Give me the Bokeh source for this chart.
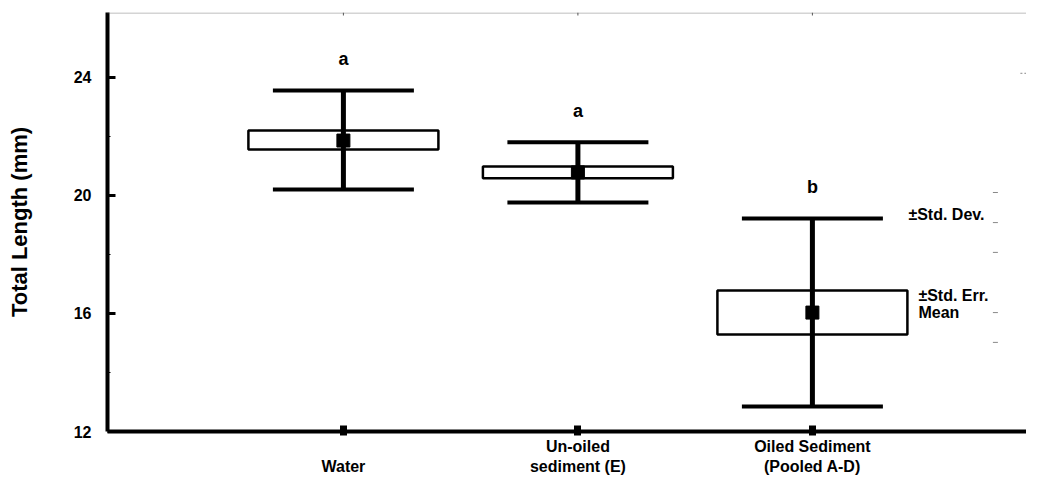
from bokeh.plotting import figure
from bokeh.models import Range1d, FixedTicker, Label, Span, LinearAxis
from bokeh.embed import file_html
from bokeh.resources import INLINE
from bokeh.core.properties import value

# ---------------- data ----------------
categories = ["Water", "Un-oiled sediment (E)", "Oiled Sediment (Pooled A-D)"]
label_line1 = ["", "Un-oiled", "Oiled Sediment"]
label_line2 = ["Water", "sediment (E)", "(Pooled A-D)"]
x_pos = [1, 2, 3]
means = [21.86, 20.78, 16.03]
se_lo = [21.56, 20.58, 15.29]
se_hi = [22.20, 20.98, 16.78]
sd_lo = [20.20, 19.76, 12.85]
sd_hi = [23.56, 21.80, 19.22]
groups = ["a", "a", "b"]
y_ticks = [12, 16, 20, 24]
y_minor = [14, 18, 22]
legend_texts = ["\u00b1Std. Dev.", "\u00b1Std. Err.", "Mean"]
stray_marks_y = [20.1, 19.08, 18.07, 16.03, 15.02]

# ---------------- layout ----------------
FONT = "Liberation Sans"
Y0, Y1 = 12, 26.2
X0, X1 = -0.006, 3.913
FRAME_H = 419
PX = FRAME_H / (Y1 - Y0)          # pixels per y unit
XPX = 234.5                       # pixels per x unit


def dy(px):
    return px / PX


def dx(px):
    return px / XPX


p = figure(width=1026, height=477, x_range=Range1d(X0, X1), y_range=Range1d(Y0, Y1),
           output_backend="svg", toolbar_location=None,
           min_border_left=107, min_border_right=0, min_border_top=12, min_border_bottom=46)
p.background_fill_color = "white"
p.border_fill_color = "white"
p.outline_line_color = None
p.xgrid.visible = False
p.ygrid.visible = False

# x axis (first label row)
xa = p.xaxis[0]
xa.ticker = FixedTicker(ticks=x_pos)
xa.axis_line_width = 4
xa.axis_line_color = "black"
xa.major_tick_in = 6
xa.major_tick_out = 4
xa.major_tick_line_width = 7
xa.minor_tick_line_color = None
xa.major_label_overrides = {x: t for x, t in zip(x_pos, label_line1)}
xa.major_label_standoff = 2
xa.major_label_text_font = FONT
xa.major_label_text_font_style = "bold"
xa.major_label_text_font_size = "16px"
xa.major_label_text_color = "black"

# second label row
xa2 = LinearAxis(ticker=FixedTicker(ticks=x_pos))
xa2.axis_line_color = None
xa2.major_tick_line_color = None
xa2.minor_tick_line_color = None
xa2.major_tick_in = 0
xa2.major_tick_out = 0
xa2.major_label_standoff = 0
xa2.major_label_overrides = {x: t for x, t in zip(x_pos, label_line2)}
xa2.major_label_text_font = FONT
xa2.major_label_text_font_style = "bold"
xa2.major_label_text_font_size = "16px"
xa2.major_label_text_color = "black"
p.add_layout(xa2, "below")

# y axis
ya = p.yaxis[0]
ya.ticker = FixedTicker(ticks=y_ticks, minor_ticks=y_minor)
ya.axis_line_width = 4
ya.axis_line_color = "black"
ya.major_tick_in = 8
ya.major_tick_out = 0
ya.major_tick_line_width = 3
ya.minor_tick_in = 3
ya.minor_tick_out = 0
ya.minor_tick_line_width = 1
ya.major_label_standoff = 16
ya.major_label_text_font = FONT
ya.major_label_text_font_style = "bold"
ya.major_label_text_font_size = "16px"
ya.major_label_text_color = "black"
ya.axis_label = "Total Length (mm)"
ya.axis_label_standoff = 39
ya.axis_label_text_font = FONT
ya.axis_label_text_font_style = "bold"
ya.axis_label_text_font_size = "22px"
ya.axis_label_text_color = "black"

# dotted top border with small ticks
p.add_layout(Span(location=Y1 - dy(0.5), dimension="width", line_color="#555555",
                  line_dash="1 1", line_width=1))
p.segment(x0=x_pos, y0=[Y1] * 3, x1=x_pos, y1=[Y1 - dy(3)] * 3, line_color="#555555", line_width=1)

# boxes (mean +- SE)
bw = dx(95)
cw = dx(70.5)
p.quad(left=[x - bw for x in x_pos], right=[x + bw for x in x_pos], bottom=se_lo, top=se_hi,
       fill_color="white", line_color="black", line_width=2.5)
# whiskers (mean +- SD)
p.segment(x0=x_pos, y0=sd_lo, x1=x_pos, y1=sd_hi, line_color="black", line_width=5)
p.segment(x0=[x - cw for x in x_pos], y0=sd_hi, x1=[x + cw for x in x_pos], y1=sd_hi,
          line_color="black", line_width=4)
p.segment(x0=[x - cw for x in x_pos], y0=sd_lo, x1=[x + cw for x in x_pos], y1=sd_lo,
          line_color="black", line_width=4)
# means
p.scatter(x=x_pos, y=means, marker="square", size=13, fill_color="black", line_color="black")

# significance letters
p.text(x=x_pos, y=[v + dy(31) for v in sd_hi], text=groups, text_font=value(FONT),
       text_font_style="bold", text_font_size="18px", text_align="center",
       text_baseline="middle", text_color="black")

# key text beside the last group
lx = x_pos[-1]
key_style = dict(text_font=FONT, text_font_style="bold", text_font_size="16px",
                 text_align="left", text_baseline="middle", text_color="black")
p.add_layout(Label(x=lx + dx(96), y=sd_hi[-1] + dy(4), text=legend_texts[0], **key_style))
p.add_layout(Label(x=lx + dx(106), y=se_hi[-1] - dy(5), text=legend_texts[1], **key_style))
p.add_layout(Label(x=lx + dx(106), y=means[-1], text=legend_texts[2], **key_style))
p.scatter(x=[lx + dx(183)] * len(stray_marks_y), y=stray_marks_y, marker="dash", size=5,
          line_color="#888888", line_width=1)
p.segment(x0=[lx + dx(208)], y0=[24.14], x1=[X1], y1=[24.14], line_color="#888888",
          line_dash="2 2", line_width=1)

open("out.html", "w").write(file_html(p, INLINE))
